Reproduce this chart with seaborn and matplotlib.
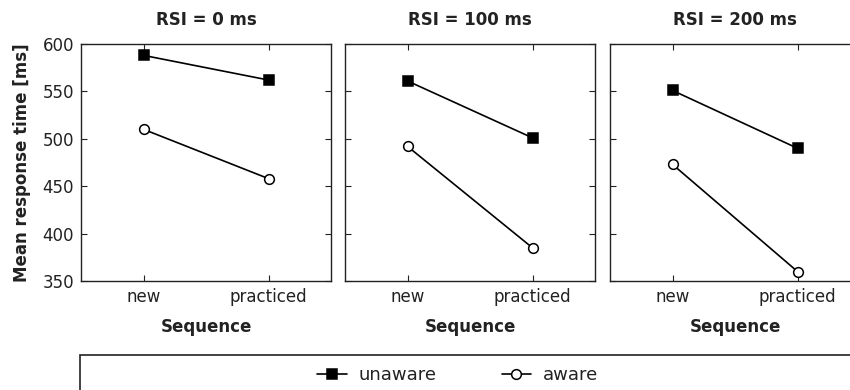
import matplotlib
matplotlib.use("Agg")
import matplotlib.pyplot as plt
from matplotlib.patches import Rectangle
from matplotlib.lines import Line2D
import seaborn as sns
import pandas as pd

sns.set_theme(style="white")
plt.rcParams["font.family"] = ["DejaVu Sans"]

# Mean response times (ms) per inter-stimulus interval
rsi_labels = ["RSI = 0 ms", "RSI = 100 ms", "RSI = 200 ms"]
sequence = ["new", "practiced"]
unaware = [[588, 562], [561, 501], [551, 490]]
aware = [[510, 458], [492, 385], [473, 360]]
groups = ["unaware", "aware"]
y_ticks = [350, 400, 450, 500, 550, 600]

rows = []
for i, rsi in enumerate(rsi_labels):
    for j, seq in enumerate(sequence):
        rows.append({"rsi": rsi, "seq": j, "group": "unaware", "rt": unaware[i][j]})
        rows.append({"rsi": rsi, "seq": j, "group": "aware", "rt": aware[i][j]})
df = pd.DataFrame(rows)

fig = plt.figure(figsize=(8.5, 3.9), dpi=100)
W, H = 850, 390
lefts = [81, 345, 610]
ax_w, ax_top, ax_bot = 250, 44, 281
ink = "#222222"

marker_styles = {"unaware": dict(marker="s", mfc="black", mec="black", markersize=6.5),
                 "aware": dict(marker="o", mfc="white", mec="black", markersize=7)}

for i, rsi in enumerate(rsi_labels):
    ax = fig.add_axes([lefts[i] / W, 1 - ax_bot / H, ax_w / W, (ax_bot - ax_top) / H])
    sub = df[df["rsi"] == rsi]
    for g in groups:
        d = sub[sub["group"] == g]
        sns.lineplot(data=d, x="seq", y="rt", ax=ax, color="black", lw=1.2,
                     mew=1.1, legend=False, **marker_styles[g])
    ax.set_xlim(-0.5, 1.5)
    ax.set_ylim(350, 600)
    ax.set_xticks([0, 1])
    ax.set_xticklabels(sequence)
    ax.set_yticks(y_ticks)
    if i == 0:
        ax.set_yticklabels([str(t) for t in y_ticks])
        ax.set_ylabel("Mean response time [ms]", fontsize=12, fontweight="bold",
                      color=ink, labelpad=8)
    else:
        ax.set_yticklabels([])
        ax.set_ylabel("")
    ax.set_xlabel("Sequence", fontsize=12, fontweight="bold", color=ink, labelpad=9)
    ax.set_title(rsi, fontsize=12, fontweight="bold", color=ink, pad=13.5)
    ax.tick_params(direction="in", length=4, width=0.8, top=True, right=True,
                   bottom=True, left=True, labelsize=12, colors=ink, pad=5)
    for s in ax.spines.values():
        s.set_color(ink)
        s.set_linewidth(1.0)

# Legend panel below the facets
frame = Rectangle((80 / W, -0.3), 1.0, 0.3 + (1 - 355 / H), transform=fig.transFigure,
                  fill=False, edgecolor=ink, lw=1.2, clip_on=False)
fig.patches.append(frame)
handles = [Line2D([], [], color="black", lw=1.2, mew=1.1, **marker_styles[g]) for g in groups]
fig.legend(handles, groups, loc="center left", bbox_to_anchor=(317 / W, 1 - 375 / H),
           ncol=2, frameon=False, fontsize=13, handlelength=1.65, handletextpad=0.65,
           columnspacing=3.6, borderpad=0, borderaxespad=0, labelcolor=ink)

fig.savefig("out.png", dpi=100)
